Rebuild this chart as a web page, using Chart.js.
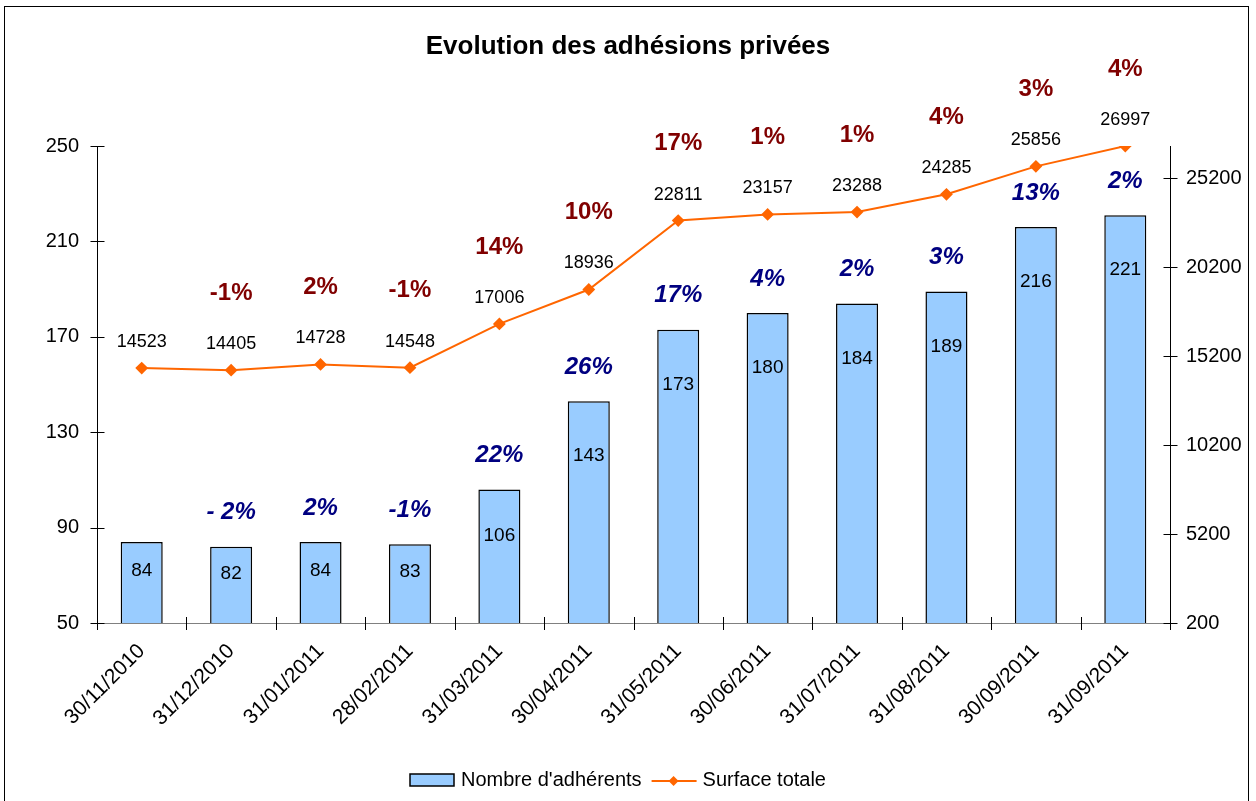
<!DOCTYPE html>
<html>
<head>
<meta charset="utf-8">
<script src="https://cdn.jsdelivr.net/npm/chart.js@4.4.1/dist/chart.umd.min.js"></script>
<style>
  html, body { margin: 0; padding: 0; background: #fff; }
  #wrap { position: relative; width: 1256px; height: 801px; overflow: hidden; }
  #frame { position: absolute; left: 4px; top: 6px; width: 1245px; height: 820px; border: 1.5px solid #000; box-sizing: border-box; }
  canvas { position: absolute; left: 0; top: 0; }
</style>
</head>
<body>
<div id="wrap">
  <div id="frame"></div>
  <canvas id="chart" width="1256" height="801"></canvas>
</div>
<script>
// ── Data ──────────────────────────────────────────────
const categories = ['30/11/2010', '31/12/2010', '31/01/2011', '28/02/2011', '31/03/2011', '30/04/2011',
                    '31/05/2011', '30/06/2011', '31/07/2011', '31/08/2011', '30/09/2011', '31/09/2011'];
const adherents  = [84, 82, 84, 83, 106, 143, 173, 180, 184, 189, 216, 221];
const surface    = [14523, 14405, 14728, 14548, 17006, 18936, 22811, 23157, 23288, 24285, 25856, 26997];
const adhGrowth  = ['', '- 2%', '2%', '-1%', '22%', '26%', '17%', '4%', '2%', '3%', '13%', '2%'];
const surfGrowth = ['', '-1%', '2%', '-1%', '14%', '10%', '17%', '1%', '1%', '4%', '3%', '4%'];
const leftTicks  = [50, 90, 130, 170, 210, 250];
const rightTicks = [200, 5200, 10200, 15200, 20200, 25200];

const FONT = '"Liberation Sans", Arial, sans-serif';
const BAR_FILL = '#99CCFF';
const ORANGE = '#FF6600';

// ── Plugins ───────────────────────────────────────────
const axesPlugin = {
  id: 'excelAxes',
  afterDatasetsDraw(chart) {
    const { ctx, chartArea: a, scales } = chart;
    ctx.save();
    ctx.lineWidth = 1;
    // x axis line
    ctx.strokeStyle = '#808080';
    ctx.beginPath(); ctx.moveTo(a.left, a.bottom + 0.5); ctx.lineTo(a.right, a.bottom + 0.5); ctx.stroke();
    ctx.strokeStyle = '#000';
    // x boundary ticks
    const n = categories.length;
    const w = (a.right - a.left) / n;
    for (let i = 0; i <= n; i++) {
      const x = Math.round(a.left + i * w) + 0.5;
      ctx.beginPath(); ctx.moveTo(x, a.bottom - 6); ctx.lineTo(x, a.bottom + 7); ctx.stroke();
    }
    // left axis
    const xl = Math.round(a.left) + 0.5;
    ctx.beginPath(); ctx.moveTo(xl, a.top); ctx.lineTo(xl, a.bottom + 7); ctx.stroke();
    leftTicks.forEach(v => {
      const y = Math.round(scales.y.getPixelForValue(v)) + 0.5;
      ctx.beginPath(); ctx.moveTo(xl - 7, y); ctx.lineTo(xl + 7, y); ctx.stroke();
    });
    // right axis
    const xr = Math.round(a.right) + 0.5;
    ctx.beginPath(); ctx.moveTo(xr, a.top); ctx.lineTo(xr, a.bottom + 7); ctx.stroke();
    rightTicks.forEach(v => {
      const y = Math.round(scales.y1.getPixelForValue(v)) + 0.5;
      ctx.beginPath(); ctx.moveTo(xr - 7, y); ctx.lineTo(xr + 7, y); ctx.stroke();
    });
    ctx.restore();
  },
};

const labelsPlugin = {
  id: 'valueLabels',
  afterDraw(chart) {
    const { ctx, chartArea } = chart;
    const bars = chart.getDatasetMeta(0).data;
    const pts  = chart.getDatasetMeta(1).data;
    ctx.save();
    ctx.textAlign = 'center';
    ctx.textBaseline = 'middle';

    bars.forEach((b, i) => {
      const h = chartArea.bottom - b.y;
      ctx.fillStyle = '#000';
      ctx.font = '19px ' + FONT;
      ctx.fillText(String(adherents[i]), b.x, b.y + Math.min(55, h * 0.35));
      if (adhGrowth[i]) {
        ctx.fillStyle = '#000080';
        ctx.font = 'italic bold 24px ' + FONT;
        ctx.fillText(adhGrowth[i], b.x, b.y - 34);
      }
    });

    pts.forEach((p, i) => {
      ctx.fillStyle = '#000';
      ctx.font = '18px ' + FONT;
      ctx.fillText(String(surface[i]), p.x, p.y - 26);
      if (surfGrowth[i]) {
        ctx.fillStyle = '#800000';
        ctx.font = 'bold 24px ' + FONT;
        ctx.fillText(surfGrowth[i], p.x, p.y - 77);
      }
    });

    // title
    ctx.fillStyle = '#000';
    ctx.font = 'bold 26px ' + FONT;
    ctx.fillText('Evolution des adhésions privées', 628, 47);

    // legend
    ctx.font = '20px ' + FONT;
    ctx.textAlign = 'left';
    const t1 = "Nombre d'adhérents", t2 = 'Surface totale';
    const w1 = ctx.measureText(t1).width, w2 = ctx.measureText(t2).width;
    const total = 44 + 7 + w1 + 10 + 45 + 6 + w2;
    let x = 618 - total / 2;
    const ly = 780;
    ctx.fillStyle = BAR_FILL; ctx.strokeStyle = '#000'; ctx.lineWidth = 1.5;
    ctx.fillRect(x, ly - 6, 44, 12); ctx.strokeRect(x, ly - 6, 44, 12);
    x += 51;
    ctx.fillStyle = '#000'; ctx.fillText(t1, x, ly);
    x += w1 + 10;
    ctx.strokeStyle = ORANGE; ctx.lineWidth = 2;
    ctx.beginPath(); ctx.moveTo(x, ly + 1); ctx.lineTo(x + 45, ly + 1); ctx.stroke();
    ctx.fillStyle = ORANGE;
    ctx.beginPath();
    ctx.moveTo(x + 22, ly - 4); ctx.lineTo(x + 27, ly + 1); ctx.lineTo(x + 22, ly + 6); ctx.lineTo(x + 17, ly + 1);
    ctx.closePath(); ctx.fill();
    x += 51;
    ctx.fillStyle = '#000'; ctx.fillText(t2, x, ly);
    ctx.restore();
  },
};

// ── Chart ─────────────────────────────────────────────
new Chart(document.getElementById('chart'), {
  type: 'bar',
  data: {
    labels: categories,
    datasets: [
      {
        label: "Nombre d'adhérents",
        data: adherents,
        backgroundColor: BAR_FILL,
        borderColor: '#000',
        borderWidth: 1.5,
        barPercentage: 0.47,
        categoryPercentage: 1,
        yAxisID: 'y',
        order: 2,
      },
      {
        label: 'Surface totale',
        type: 'line',
        data: surface,
        borderColor: ORANGE,
        borderWidth: 2,
        pointStyle: 'rectRot',
        pointRadius: 5,
        pointBackgroundColor: ORANGE,
        pointBorderColor: ORANGE,
        tension: 0,
        yAxisID: 'y1',
        order: 1,
      },
    ],
  },
  options: {
    responsive: false,
    animation: false,
    layout: { padding: { top: 146, left: 0, right: 0, bottom: 0 } },
    plugins: { legend: { display: false }, title: { display: false }, tooltip: { enabled: false } },
    scales: {
      x: {
        grid: { display: false }, border: { display: false },
        ticks: { color: '#000', font: { family: FONT, size: 21 }, minRotation: 45, maxRotation: 45, padding: 8 },
        afterFit: s => { s.height = 178; },
      },
      y: {
        position: 'left', min: 50, max: 250,
        grid: { display: false }, border: { display: false },
        ticks: { color: '#000', font: { family: FONT, size: 20 }, padding: 10 },
        afterBuildTicks: s => { s.ticks = leftTicks.map(v => ({ value: v })); },
        afterFit: s => { s.width = 97; },
      },
      y1: {
        position: 'right', min: 200, max: 27000,
        grid: { display: false }, border: { display: false },
        ticks: { color: '#000', font: { family: FONT, size: 20 }, padding: 8, callback: v => String(v) },
        afterBuildTicks: s => { s.ticks = rightTicks.map(v => ({ value: v })); },
        afterFit: s => { s.width = 86; },
      },
    },
  },
  plugins: [axesPlugin, labelsPlugin],
});
</script>
</body>
</html>
